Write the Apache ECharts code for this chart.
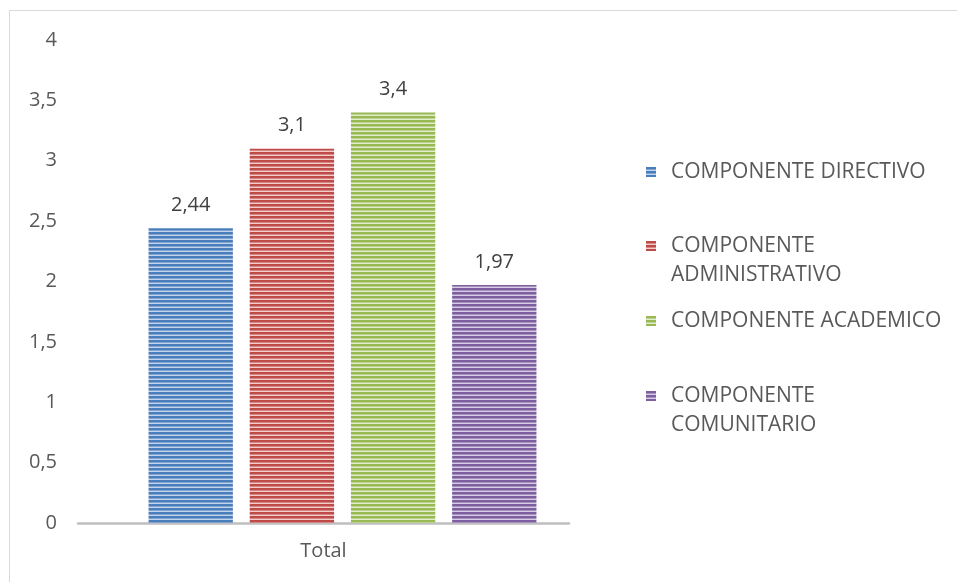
<!DOCTYPE html>
<html>
<head>
<meta charset="utf-8">
<script src="https://cdn.jsdelivr.net/npm/echarts@6/dist/echarts.min.js"></script>
<style>
  html, body { margin: 0; padding: 0; background: #fff; }
  #chart { width: 957px; height: 582px; }
</style>
</head>
<body>
<div id="chart"></div>
<script>
// Chart data
const categories = ['Total'];
const seriesNames = [
  'COMPONENTE DIRECTIVO',
  'COMPONENTE ADMINISTRATIVO',
  'COMPONENTE ACADEMICO',
  'COMPONENTE COMUNITARIO'
];
const seriesValues = [2.44, 3.1, 3.4, 1.97];
const yTicks = { min: 0, max: 4, interval: 0.5 };

// Legend text, split over lines as laid out beside the plot
const legendLines = [
  ['COMPONENTE DIRECTIVO'],
  ['COMPONENTE', 'ADMINISTRATIVO'],
  ['COMPONENTE ACADEMICO'],
  ['COMPONENTE', 'COMUNITARIO']
];

// Striped fills: dark and light horizontal lines
const stripeColors = [
  ['#4A7EBB', '#7FA3D2', '#C3D4EC'],
  ['#BE4B48', '#D68785', '#F0CCCB'],
  ['#98B954', '#BCD38F', '#E2EDCB'],
  ['#7D5FA0', '#A690C0', '#D6CCE4']
];

function stripePattern(c) {
  const cv = document.createElement('canvas');
  cv.width = 4; cv.height = 4;
  const ctx = cv.getContext('2d');
  ctx.fillStyle = c[0]; ctx.fillRect(0, 0, 4, 2);
  ctx.fillStyle = c[1]; ctx.fillRect(0, 2, 4, 1);
  ctx.fillStyle = c[2]; ctx.fillRect(0, 3, 4, 1);
  return { image: cv, repeat: 'repeat' };
}

const FONT = 'Open Sans';
const TEXT = '#595959';
const fmt = v => String(v).replace('.', ',');

const chart = echarts.init(document.getElementById('chart'), null, { renderer: 'canvas' });

const LINE_H = 29;
const iconCenters = [172, 246, 321, 396];
const legends = seriesNames.map((name, i) => {
  const lines = legendLines[i];
  // A leading blank line keeps the icon level with the first text line
  const text = lines.length > 1 ? '\n' + lines.join('\n') : lines[0];
  const nLines = lines.length > 1 ? 3 : 1;
  return {
    data: [name],
    left: 646,
    top: iconCenters[i] - (nLines * LINE_H) / 2,
    orient: 'vertical',
    icon: 'rect',
    itemWidth: 10,
    itemHeight: 10,
    itemGap: 0,
    padding: 0,
    selectedMode: false,
    formatter: () => text,
    textStyle: { fontFamily: FONT, fontSize: 21, color: TEXT, lineHeight: LINE_H, padding: [0, 0, 0, 10] }
  };
});

// Grid 0 holds the bars (cluster sits slightly right of the axis centre),
// grid 1 carries the visible axes.
const plotTop = 40, plotBottom = 59;

chart.setOption({
  animation: false,
  backgroundColor: '#fff',
  graphic: [{
    type: 'rect',
    shape: { x: 9.5, y: 10.5, width: 1000, height: 1000 },
    style: { fill: 'none', stroke: '#D9D9D9', lineWidth: 1 },
    silent: true
  }],
  grid: [
    { left: 97, right: 369, top: plotTop, bottom: plotBottom, containLabel: false },
    { left: 78, right: 388, top: plotTop, bottom: plotBottom, containLabel: false }
  ],
  legend: legends,
  xAxis: [
    {
      type: 'category', gridIndex: 0, data: categories,
      axisLine: { show: false }, axisTick: { show: false }, axisLabel: { show: false }
    },
    {
      type: 'category', gridIndex: 1, data: categories,
      axisLine: { show: true, lineStyle: { color: '#BFBFBF', width: 2.5 } },
      axisTick: { show: false },
      axisLabel: { fontFamily: FONT, fontSize: 20, color: TEXT, margin: 18 }
    }
  ],
  yAxis: [
    {
      type: 'value', gridIndex: 0,
      min: yTicks.min, max: yTicks.max, interval: yTicks.interval,
      axisLine: { show: false }, axisTick: { show: false },
      splitLine: { show: false }, axisLabel: { show: false }
    },
    {
      type: 'value', gridIndex: 1,
      min: yTicks.min, max: yTicks.max, interval: yTicks.interval,
      axisLine: { show: false }, axisTick: { show: false }, splitLine: { show: false },
      axisLabel: { fontFamily: FONT, fontSize: 20, color: TEXT, margin: 21, formatter: v => fmt(v) }
    }
  ],
  series: seriesNames.map((name, i) => ({
    name: name,
    type: 'bar',
    xAxisIndex: 0,
    yAxisIndex: 0,
    z: 3,
    data: [seriesValues[i]],
    barGap: '20%',
    barCategoryGap: '21%',
    itemStyle: { color: stripePattern(stripeColors[i]) },
    label: {
      show: true,
      position: 'top',
      distance: 13,
      fontFamily: FONT,
      fontSize: 20,
      color: '#404040',
      formatter: p => fmt(p.value)
    }
  }))
});
</script>
</body>
</html>
